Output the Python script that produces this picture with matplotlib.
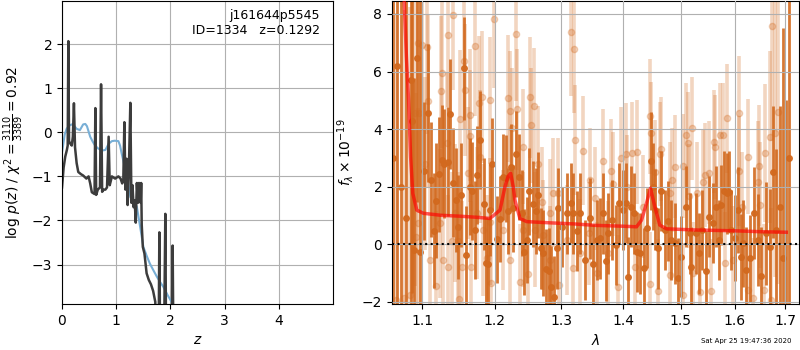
import numpy as np
import matplotlib
matplotlib.use("Agg")
import matplotlib.pyplot as plt
from matplotlib.ticker import FixedLocator, NullLocator, FixedFormatter

# ---- left panel: log p(z) ----
z_pz = [0.0, 0.03, 0.06, 0.09, 0.105, 0.117, 0.13, 0.15, 0.18, 0.20,
        0.22, 0.24, 0.27, 0.30, 0.35, 0.39, 0.45, 0.49, 0.52, 0.55,
        0.60, 0.615, 0.63, 0.66, 0.70, 0.72, 0.74, 0.77, 0.80, 0.83,
        0.86, 0.88, 0.92, 0.98, 1.04, 1.08, 1.11, 1.13, 1.15, 1.17,
        1.19, 1.21, 1.23, 1.26, 1.28, 1.30, 1.32, 1.34, 1.36, 1.38,
        1.40, 1.42, 1.44, 1.45, 1.46, 1.47, 1.49, 1.52, 1.56, 1.60,
        1.64, 1.68, 1.72, 1.74, 1.78, 1.795, 1.81, 1.88, 1.905, 1.92,
        2.02, 2.04, 2.055]
logp = [-1.25, -0.8, -0.55, -0.4, -0.3, 2.07, -0.2, -0.25, -0.3, -0.1,
        0.66, -0.34, -0.7, -0.9, -0.95, -0.98, -1.05, -1.0, -1.16, -1.36,
        -1.4, 0.55, -1.42, -1.3, -1.25, 1.09, -1.35, -1.3, -1.3, -1.25,
        -0.1, -1.2, -1.0, -1.05, -1.0, -1.05, -1.16, -1.1, 0.23, -1.3,
        -0.6, -1.65, -1.0, 0.67, -1.6, -1.2, -1.7, -1.55, -2.05, -1.15,
        -1.6, -1.15, -1.2, -1.6, -1.15, -2.1, -2.6, -2.75, -3.2, -3.35,
        -3.45, -3.6, -3.85, -5.0, -5.0, -2.27, -5.0, -5.0, -1.85, -5.0,
        -5.0, -2.57, -5.0]

z_prior = [0.0, 0.025, 0.05, 0.086, 0.13, 0.18, 0.23, 0.27, 0.33, 0.39,
           0.43, 0.46, 0.52, 0.57, 0.61, 0.66, 0.70, 0.75, 0.80, 0.86,
           0.92, 0.97, 1.04, 1.07, 1.10, 1.14, 1.17, 1.22, 1.26, 1.32,
           1.38, 1.44, 1.50, 1.56, 1.62, 1.68, 1.75, 1.81, 1.87, 1.95,
           2.02, 2.10]
logp_prior = [-0.45, -0.26, -0.05, 0.08, 0.15, 0.18, 0.14, 0.08, 0.05, 0.18,
              0.19, 0.14, -0.1, -0.22, -0.3, -0.36, -0.39, -0.41, -0.4, -0.26,
              -0.2, -0.19, -0.2, -0.3, -0.48, -0.7, -0.86, -1.15, -1.47, -1.55,
              -1.69, -2.14, -2.6, -2.8, -2.98, -3.12, -3.28, -3.4, -3.51, -3.7,
              -3.85, -4.1]

# ---- right panel: spectrum ----
dark_wave = [1.0624, 1.0675, 1.0722, 1.0787, 1.0851, 1.0868, 1.0894, 1.0932, 1.0974, 1.1030,
             1.1083, 1.1123, 1.1162, 1.1189, 1.1229, 1.1269, 1.1296, 1.1342, 1.1377, 1.1418,
             1.1458, 1.1485, 1.1526, 1.1567, 1.1595, 1.1647, 1.1679, 1.1714, 1.1752, 1.1791,
             1.1843, 1.1880, 1.1904, 1.1933, 1.1957, 1.2037, 1.2077, 1.2116, 1.2159, 1.2197,
             1.2232, 1.2270, 1.2315, 1.2360, 1.2394, 1.2433, 1.2469, 1.2508, 1.2559, 1.2604,
             1.2644, 1.2680, 1.2720, 1.2761, 1.2802, 1.2833, 1.2884, 1.2926, 1.2951, 1.3003,
             1.3081, 1.3148, 1.3185, 1.3238, 1.3291, 1.3371, 1.3452, 1.3495, 1.3560, 1.3614,
             1.3658, 1.3712, 1.3750, 1.3806, 1.3877, 1.3932, 1.3989, 1.4039, 1.4083, 1.4134,
             1.4180, 1.4226, 1.4282, 1.4356, 1.4408, 1.4466, 1.4501, 1.4550, 1.4598, 1.4657,
             1.4716, 1.4774, 1.4834, 1.4893, 1.4953, 1.5013, 1.5103, 1.5163, 1.5194, 1.5272,
             1.5332, 1.5394, 1.5468, 1.5517, 1.5591, 1.5654, 1.5703, 1.5748, 1.5798, 1.5855,
             1.5893, 1.5939, 1.6002, 1.6065, 1.6117, 1.6162, 1.6214, 1.6292, 1.6377, 1.6456,
             1.6523, 1.6608, 1.6687, 1.6754, 1.6822, 1.6888, 1.6950, 1.7025, 1.7086]
dark_flux = [3.0, 6.19, 2.0, 0.89, 5.7, 4.29, -0.21, 6.46, -0.28, 2.55,
             4.55, 2.23, 0.46, 1.50, 2.43, 2.92, 2.80, 2.86, 4.52, 2.13,
             1.53, 0.60, 1.71, 6.11, -0.38, 2.00, 1.85, 0.50, 2.41, 3.62,
             1.39, -0.65, -0.70, 1.18, 2.78, 0.16, 0.86, 2.34, 2.28, 1.15,
             2.69, 1.24, 3.12, 2.34, 1.07, -0.27, 0.14, 1.83, 1.39, 1.16,
             1.70, -0.15, -0.32, -0.88, -0.93, -1.48, -1.83, -0.15, 1.24, 0.60,
             1.07, 1.42, 1.07, 0.46, 1.07, -0.56, 0.89, -0.70, 0.14, 0.20,
             1.07, -0.58, 0.37, 0.83, -0.03, 1.42, 1.18, 1.42, -1.14, 1.30,
             1.07, -0.27, -0.32, -0.85, 0.55, 2.89, 2.00, 1.20, -0.15, 1.85,
             0.49, 0.80, 0.14, 0.02, -1.19, -0.44, 1.30, 0.37, -0.79, 0.37,
             -0.32, 0.49, -0.93, 0.95, 0.74, 1.30, 0.14, 1.36, 1.85, 1.76,
             1.82, 0.49, 0.20, 1.18, -0.44, 0.02, -0.90, -0.50, 1.07, 0.14,
             -1.11, 0.37, -0.09, 2.51, 0.50, 1.30, -0.50, -3.00, 3.00]
dark_err = [10, 9, 10, 9, 8, 6, 6, 5, 9, 2.4,
            2.4, 2.0, 2.0, 2.0, 2.0, 1.9, 1.9, 1.9, 1.9, 1.9,
            1.8, 1.8, 1.8, 1.8, 1.7, 1.7, 1.7, 1.7, 1.7, 1.7,
            1.6, 1.6, 1.6, 1.6, 1.6, 1.5, 1.5, 1.5, 1.5, 1.5,
            1.5, 1.5, 1.5, 1.5, 1.5, 1.5, 1.5, 1.5, 1.5, 1.5,
            1.5, 1.4, 1.5, 1.4, 1.5, 1.4, 1.4, 1.4, 1.4, 1.4,
            1.4, 1.4, 1.4, 1.4, 1.4, 1.4, 1.4, 1.4, 1.4, 1.4,
            1.4, 1.4, 1.4, 1.4, 1.4, 1.4, 1.4, 1.4, 1.4, 1.4,
            1.4, 1.4, 1.4, 1.4, 1.4, 1.7, 1.5, 1.4, 1.4, 1.4,
            1.4, 1.4, 1.4, 1.4, 1.4, 1.4, 1.4, 1.4, 1.4, 1.4,
            1.4, 1.4, 1.4, 1.4, 1.4, 1.4, 1.4, 1.4, 1.4, 1.4,
            1.4, 1.4, 1.5, 1.5, 1.5, 1.5, 1.5, 1.5, 1.6, 1.6,
            1.7, 1.8, 2.0, 2.3, 2.8, 3.5, 8, 8, 12]

light_wave = [1.0655, 1.0758, 1.0843, 1.0904, 1.0917, 1.0943, 1.0951, 1.0965, 1.1004, 1.1040,
              1.1070, 1.1083, 1.1106, 1.1181, 1.1240, 1.1247, 1.1269, 1.1283, 1.1329, 1.1342,
              1.1350, 1.1396, 1.1418, 1.1441, 1.1481, 1.1492, 1.1516, 1.1543, 1.1566, 1.1575,
              1.1624, 1.1651, 1.1655, 1.1662, 1.1725, 1.1744, 1.1777, 1.1791, 1.1819, 1.1837,
              1.1885, 1.1933, 1.1940, 1.1947, 1.1990, 1.2125, 1.2197, 1.2222, 1.2229, 1.2247,
              1.2315, 1.2330, 1.2369, 1.2409, 1.2418, 1.2493, 1.2523, 1.2539, 1.2584, 1.2594,
              1.2644, 1.2705, 1.2720, 1.2822, 1.2830, 1.2873, 1.2951, 1.2959, 1.3081, 1.3148,
              1.3175, 1.3200, 1.3216, 1.3291, 1.3334, 1.3444, 1.3452, 1.3533, 1.3560, 1.3668,
              1.3750, 1.3789, 1.3822, 1.3916, 1.3961, 1.4039, 1.4056, 1.4141, 1.4197, 1.4226,
              1.4339, 1.4454, 1.4463, 1.4471, 1.4541, 1.4598, 1.4628, 1.4657, 1.4804, 1.4813,
              1.4852, 1.4893, 1.5032, 1.5043, 1.5103, 1.5132, 1.5150, 1.5212, 1.5224, 1.5296,
              1.5345, 1.5406, 1.5437, 1.5517, 1.5562, 1.5610, 1.5636, 1.5729, 1.5786, 1.5811,
              1.5855, 1.5969, 1.6084, 1.6094, 1.6140, 1.6259, 1.6268, 1.6356, 1.6456, 1.6469,
              1.6502, 1.6569, 1.6588, 1.6687, 1.6721, 1.6742, 1.6789, 1.6856]
light_flux = [-1.95, -1.87, -1.77, 4.55, 0.25, 7.00, 0.72, 4.57, 6.92, 2.80,
              6.84, 4.99, -0.56, -1.46, 0.72, 5.33, 5.94, -0.56, 3.50, 7.26,
              -0.79, 0.12, 7.95, 1.07, 0.12, -1.91, 4.36, -0.79, 6.38, 5.36,
              2.46, 3.76, 4.48, -0.79, 6.87, 1.07, 4.92, 3.04, 5.12, 0.49,
              -0.50, 5.00, 0.78, -1.37, 7.81, 0.49, 5.07, 4.63, -0.56, 4.02,
              7.29, 4.68, -1.31, 3.38, 0.49, -1.04, 5.10, 4.13, 4.80, 0.49,
              2.80, 1.46, 0.31, 1.07, -0.56, 1.78, 1.78, -1.43, 0.14, 7.36,
              -0.85, 6.77, 3.62, -0.32, 3.25, 0.37, 2.23, 1.59, -1.02, 2.89,
              -0.32, 2.54, 2.09, -1.48, 2.98, 3.12, 2.00, 3.15, -0.79, 3.20,
              1.30, 4.45, -1.39, 3.85, 2.51, -1.63, 3.13, 3.30, 1.76, -1.08,
              2.23, 2.69, 2.72, -1.77, 3.79, 3.50, 1.67, 4.02, -1.02, 1.76,
              -1.66, 2.17, 2.40, 2.48, -1.62, 3.56, 3.38, 3.79, 3.79, -0.67,
              4.37, -0.56, 4.55, 2.54, 1.30, 3.04, -1.60, -1.89, 2.17, 2.72,
              1.36, -1.60, 3.15, 3.73, -1.95, 7.58, 3.87, 4.60]
light_err = [10, 10, 10, 6, 5, 5, 4, 3.5, 3, 3,
             3, 3, 2.8, 2.6, 2.6, 2.6, 2.6, 2.5, 2.5, 2.5,
             2.5, 2.4, 2.6, 2.4, 2.4, 2.4, 2.4, 2.3, 2.4, 2.3,
             2.3, 2.3, 2.3, 2.3, 2.4, 2.3, 2.3, 2.3, 2.3, 2.3,
             2.2, 2.2, 2.2, 2.2, 2.4, 2.1, 2.2, 2.1, 2.1, 2.1,
             2.3, 2.1, 2.0, 2.0, 2.0, 2.0, 2.1, 2.0, 2.0, 2.0,
             2.0, 1.9, 1.9, 1.9, 1.9, 1.9, 1.9, 1.9, 1.9, 2.2,
             1.9, 2.2, 1.9, 1.9, 1.9, 1.8, 1.8, 1.8, 1.8, 1.8,
             1.8, 1.8, 1.8, 1.8, 1.8, 1.8, 1.8, 1.8, 1.8, 1.8,
             1.8, 2.0, 1.8, 1.8, 1.8, 1.8, 1.8, 1.8, 1.8, 1.8,
             1.8, 1.8, 1.8, 1.8, 1.8, 1.8, 1.8, 1.8, 1.8, 1.8,
             1.8, 1.8, 1.8, 1.8, 1.8, 1.8, 1.8, 1.8, 1.8, 1.8,
             1.9, 1.9, 2.0, 1.9, 1.9, 2.0, 2.0, 2.1, 2.1, 2.1,
             2.2, 2.3, 2.4, 3.0, 3.2, 4.0, 5.0, 6.0]

model_wave = [1.074, 1.0766, 1.0795, 1.0823, 1.0849, 1.0878, 1.093, 1.1017, 1.125, 1.15,
              1.175, 1.1933, 1.2077, 1.215, 1.2195, 1.2232, 1.227, 1.2295, 1.2369, 1.247,
              1.28, 1.32, 1.3533, 1.40, 1.4226, 1.4311, 1.4397, 1.4466, 1.4541, 1.4628,
              1.4746, 1.5254, 1.60, 1.65, 1.7025]
model_flux = [12.0, 8.5, 6.5, 5.0, 3.04, 1.76, 1.18, 1.07, 1.0, 0.97,
              0.93, 0.89, 1.18, 2.0, 2.35, 2.46, 2.0, 1.53, 0.89, 0.78,
              0.74, 0.70, 0.65, 0.62, 0.60, 0.83, 1.42, 1.94, 1.3, 0.66,
              0.53, 0.49, 0.46, 0.43, 0.41]

wave_ticks = [1.1, 1.2, 1.3, 1.4, 1.5, 1.6, 1.7]
orange = '#d2691e'

fig = plt.figure(figsize=(8, 3.5), dpi=100)

ax1 = fig.add_axes([0.0775, 0.131, 0.339, 0.866])
ax1.plot(z_prior, logp_prior, color='#78afd6', lw=1.5)
ax1.plot(z_pz, logp, color='#3c3c3c', lw=1.8)
ax1.set_xlim(0, 5.0)
ax1.set_ylim(-3.9, 2.98)
ax1.set_xticks([0, 1, 2, 3, 4])
ax1.set_yticks([-3, -2, -1, 0, 1, 2])
ax1.grid(True)
ax1.set_xlabel('$z$')
ax1.set_ylabel(r'log $p(z)$ / $\chi^2=\frac{3110}{3389}=0.92$')
ax1.text(0.95, 0.975, 'j161644p5545\nID=1334   z=0.1292', ha='right', va='top',
         transform=ax1.transAxes, fontsize=9)

ax2 = fig.add_axes([0.49, 0.131, 0.509, 0.866])
ax2.errorbar(light_wave, light_flux, yerr=light_err, fmt='o', color=orange,
             alpha=0.28, ms=4.5, elinewidth=2.6, capsize=0, zorder=1)
ax2.errorbar(dark_wave, dark_flux, yerr=dark_err, fmt='o', color=orange,
             alpha=0.9, ms=4, elinewidth=2.0, capsize=0, zorder=2)
ax2.plot(model_wave, model_flux, color='r', alpha=0.65, lw=2.5, zorder=5)
ax2.axhline(0, color='k', ls=':', lw=1.5, zorder=6)
ax2.set_xscale('log')
ax2.set_xlim(1.061, 1.729)
ax2.set_ylim(-2.09, 8.45)
ax2.xaxis.set_major_locator(FixedLocator(wave_ticks))
ax2.xaxis.set_major_formatter(FixedFormatter([str(w) for w in wave_ticks]))
ax2.xaxis.set_minor_locator(NullLocator())
ax2.set_yticks([-2, 0, 2, 4, 6, 8])
ax2.set_axisbelow(False)
ax2.grid(True, zorder=3)
ax2.set_xlabel(r'$\lambda$')
ax2.set_ylabel(r'$f_\lambda\times10^{-19}$')

fig.text(0.9325, 0.026, 'Sat Apr 25 19:47:36 2020', fontsize=5, ha='center', va='center')

fig.savefig('out.png', dpi=100)
